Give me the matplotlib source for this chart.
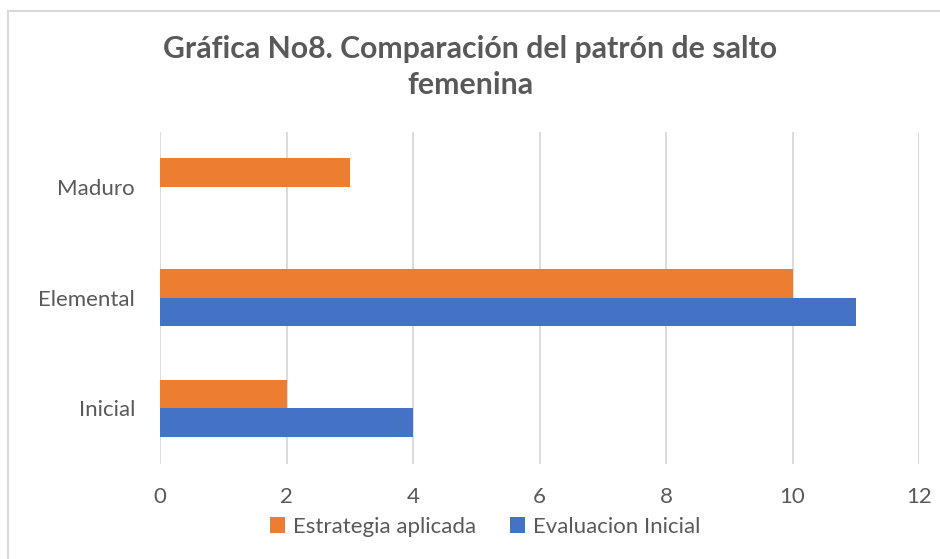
import matplotlib
matplotlib.use("Agg")
import matplotlib.pyplot as plt
from matplotlib.lines import Line2D
from matplotlib.patches import Patch
import numpy as np

categories = ["Inicial", "Elemental", "Maduro"]
estrategia = [2, 10, 3]
evaluacion = [4, 11, 0]
series_names = ["Estrategia aplicada", "Evaluacion Inicial"]
xticks = [0, 2, 4, 6, 8, 10, 12]
title = "Gráfica No8. Comparación del patrón de salto\nfemenina"

ORANGE = "#ED7D31"
BLUE = "#4472C4"
TXT = "#595959"
GRID = "#D9D9D9"

plt.rcParams['font.family'] = ['Lato', 'DejaVu Sans']

W, H = 940, 559
fig = plt.figure(figsize=(W / 100, H / 100), dpi=100)

# outer chart border (top and left visible)
fig.add_artist(Line2D([8 / W, 1], [1 - 11 / H, 1 - 11 / H], color="#D9D9D9", lw=1.5,
                      transform=fig.transFigure))
fig.add_artist(Line2D([8 / W, 8 / W], [0, 1 - 11 / H], color="#D9D9D9", lw=1.5,
                      transform=fig.transFigure))

left, right = 160 / W, 919 / W
top, bottom = 1 - 131.5 / H, 1 - 463.5 / H
ax = fig.add_axes([left, bottom, right - left, top - bottom])

y = np.arange(len(categories))
h = 0.257
ax.barh(y + h / 2, estrategia, height=h, color=ORANGE, zorder=3)
ax.barh(y - h / 2, evaluacion, height=h, color=BLUE, zorder=3)

ax.set_xlim(0, 12)
ax.set_ylim(-0.5, len(categories) - 0.5)
ax.set_xticks(xticks)
ax.set_xticklabels([str(t) for t in xticks])
ax.set_yticks(y)
ax.set_yticklabels(categories)
ax.grid(axis="x", color=GRID, lw=1.3, zorder=0)
ax.set_axisbelow(True)
for s in ax.spines.values():
    s.set_visible(False)
ax.tick_params(axis="both", length=0, labelsize=16, colors=TXT)
ax.tick_params(axis="x", pad=17)
ax.tick_params(axis="y", pad=18)

fig.text(470 / W, 1 - 67 / H, title, ha="center", va="center", fontsize=21.8,
         fontweight="bold", color=TXT, linespacing=1.35)

handles = [Patch(facecolor=ORANGE), Patch(facecolor=BLUE)]
fig.legend(handles, series_names, loc="center", bbox_to_anchor=(485 / W, 1 - 527 / H),
           ncol=2, frameon=False, fontsize=16, labelcolor=TXT, handlelength=0.7,
           handleheight=0.7, handletextpad=0.35, columnspacing=1.5)

fig.savefig("out.png", dpi=100, facecolor="white")
